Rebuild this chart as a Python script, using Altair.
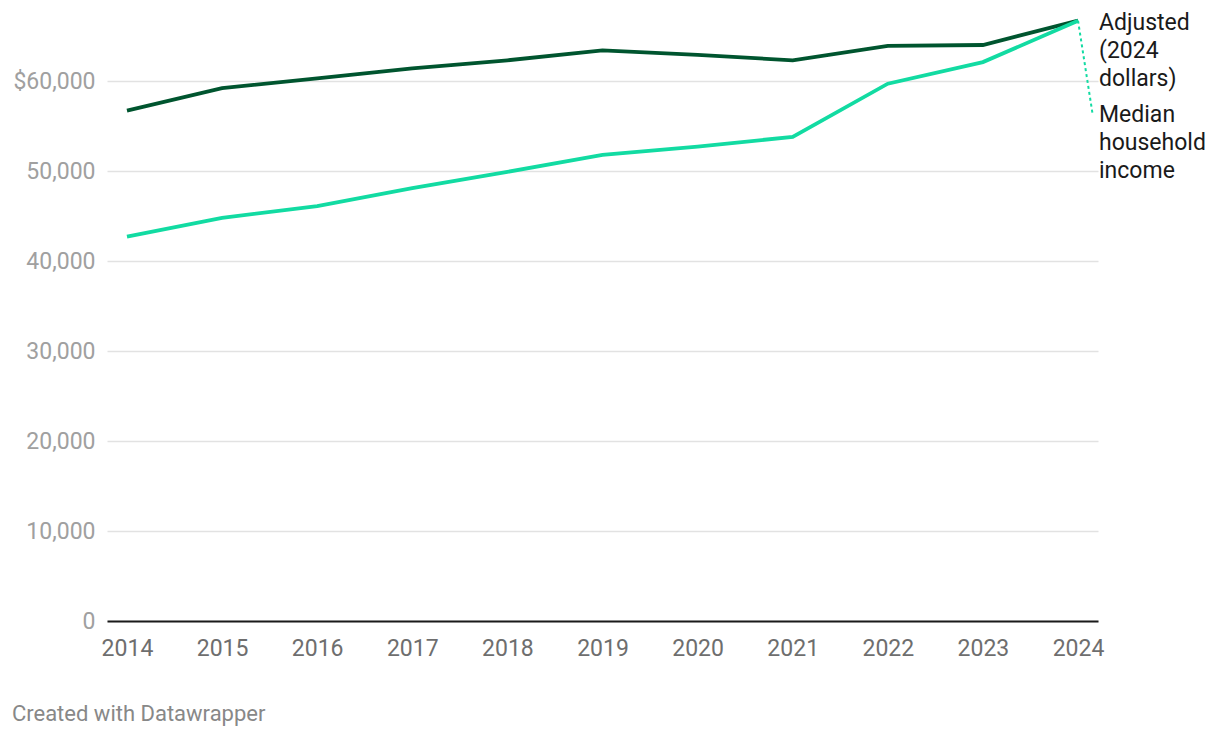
import altair as alt
import pandas as pd

years = [2014, 2015, 2016, 2017, 2018, 2019, 2020, 2021, 2022, 2023, 2024]
adjusted = [56700, 59200, 60300, 61400, 62300, 63400, 62900, 62300, 63900, 64000, 66700]
nominal = [42700, 44800, 46100, 48100, 49900, 51800, 52700, 53800, 59700, 62100, 66700]
series_keys = ["adjusted", "nominal"]
series_labels = ["Adjusted\n(2024\ndollars)", "Median\nhousehold\nincome"]
y_ticks = [0, 10000, 20000, 30000, 40000, 50000, 60000]

DARK = "#00552f"
LIGHT = "#12dba2"
FS = 23

rows = []
for yr, a, n in zip(years, adjusted, nominal):
    rows.append({"year": yr, "series": "adjusted", "value": a})
    rows.append({"year": yr, "series": "nominal", "value": n})
df = pd.DataFrame(rows)

x_enc = alt.X(
    "year:Q",
    scale=alt.Scale(domain=[2013.79, 2024.21], nice=False, zero=False),
    axis=alt.Axis(
        values=years, format="d", grid=False, ticks=False, domain=True,
        domainColor="#1a1a1a", domainWidth=2, labelFont="Roboto", labelFontSize=FS,
        labelColor="#6e6e6e", labelPadding=16, title=None,
    ),
)
y_enc = alt.Y(
    "value:Q",
    scale=alt.Scale(domain=[0, 68000], nice=False),
    axis=alt.Axis(
        values=y_ticks,
        labelExpr="datum.value == 60000 ? '$60,000' : format(datum.value, ',')",
        grid=True, gridColor="#e2e2e2", gridWidth=1.5, domain=False, ticks=False,
        labelFont="Roboto", labelFontSize=FS, labelColor="#a0a0a0", labelPadding=12,
        title=None,
    ),
)

lines = alt.Chart(df).mark_line(strokeWidth=3.8).encode(
    x=x_enc,
    y=y_enc,
    color=alt.Color("series:N", scale=alt.Scale(domain=series_keys, range=[DARK, LIGHT]), legend=None),
    detail="series:N",
)

end_val = adjusted[-1]
conn_df = pd.DataFrame({"x": [years[-1]], "x2": [2024.152], "y": [end_val], "y2": [56400]})
connector = alt.Chart(conn_df).mark_rule(color=LIGHT, strokeWidth=2, strokeDash=[3, 3]).encode(
    x="x:Q", x2="x2:Q", y="y:Q", y2="y2:Q"
)

lab1 = alt.Chart(pd.DataFrame({"x": [years[-1]], "y": [end_val], "t": [series_labels[0]]})).mark_text(
    align="left", baseline="alphabetic", dx=21, dy=9, lineHeight=28, lineBreak="\n",
    font="Roboto", fontSize=FS, color="#1a1a1a",
).encode(x="x:Q", y="y:Q", text="t:N")

lab2 = alt.Chart(pd.DataFrame({"x": [years[-1]], "y": [end_val], "t": [series_labels[1]]})).mark_text(
    align="left", baseline="alphabetic", dx=21, dy=101, lineHeight=28, lineBreak="\n",
    font="Roboto", fontSize=FS, color="#1a1a1a",
).encode(x="x:Q", y="y:Q", text="t:N")

chart = alt.layer(lines, connector, lab1, lab2).properties(
    width=991,
    height=612,
    autosize=alt.AutoSizeParams(type="none"),
    padding={"left": 99, "top": 1, "right": 114, "bottom": 112},
    title=alt.TitleParams(
        "Created with Datawrapper", orient="bottom", anchor="start", font="Roboto",
        fontSize=22, fontWeight="normal", color="#888888", dx=-1, offset=44,
    ),
).configure_view(strokeWidth=0)

chart.save("out.html", embed_options={"renderer": "svg", "actions": False})
